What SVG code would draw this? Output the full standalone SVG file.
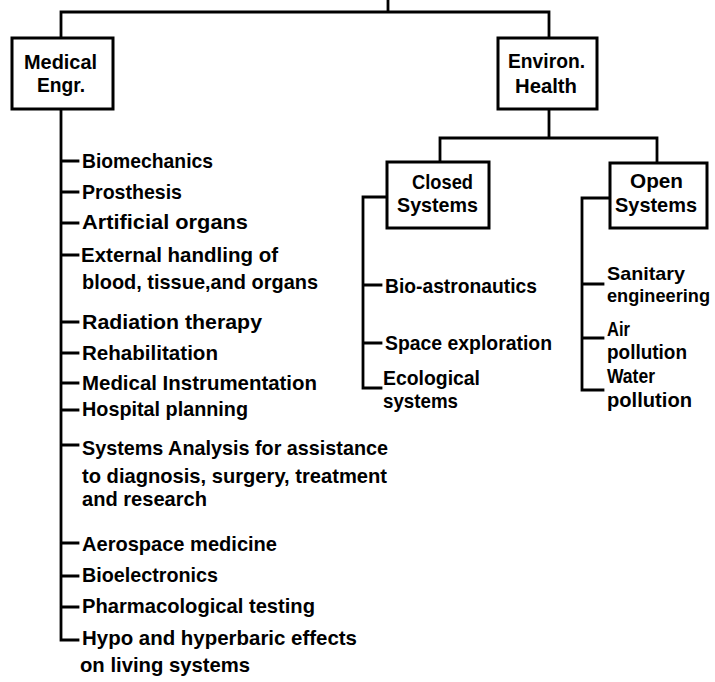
<svg xmlns="http://www.w3.org/2000/svg" width="715" height="682" viewBox="0 0 715 682">
<style>
text{font-family:"Liberation Sans",Arial,sans-serif;font-weight:bold;font-size:21px;fill:#000}
.sm{font-size:19px}
.box{fill:#fff;stroke:#000;stroke-width:3}
.ln{fill:none;stroke:#000;stroke-width:2.8;stroke-linecap:square}
</style>
<rect width="715" height="682" fill="#fff"/>
<g id="connectors" class="ln">
<path d="M388,0V12M61,12H549M61,12V38M549,12V38"/>
<path d="M61,109V640H78M61,161H78M61,192H78M61,223H78M61,255H78M61,322H78M61,353H78M61,383H78M61,410H78M61,445H78M61,543H78M61,576H78M61,607H78"/>
<path d="M549,109V138M440,138H657M440,138V162M657,138V163"/>
<path d="M387,197H363V388H381M363,285H381M363,343H381"/>
<path d="M610,198H582V390H603M582,284H603M582,338H603"/>
</g>
<g id="medical">
<rect class="box" x="12" y="38" width="101" height="71"/>
<text x="24" y="69" textLength="73" lengthAdjust="spacingAndGlyphs">Medical</text>
<text x="37" y="92" textLength="48" lengthAdjust="spacingAndGlyphs">Engr.</text>
</g>
<g id="environ">
<rect class="box" x="498" y="38" width="99" height="71"/>
<text x="508" y="68" textLength="77" lengthAdjust="spacingAndGlyphs">Environ.</text>
<text x="515" y="93" textLength="62" lengthAdjust="spacingAndGlyphs">Health</text>
</g>
<g id="closed">
<rect class="box" x="387" y="162" width="102" height="66"/>
<text x="412" y="189" textLength="61" lengthAdjust="spacingAndGlyphs">Closed</text>
<text x="397" y="212" textLength="81" lengthAdjust="spacingAndGlyphs">Systems</text>
</g>
<g id="open">
<rect class="box" x="610" y="163" width="97" height="65"/>
<text x="630" y="188" textLength="53" lengthAdjust="spacingAndGlyphs">Open</text>
<text x="615" y="212" textLength="82" lengthAdjust="spacingAndGlyphs">Systems</text>
</g>
<g id="medical-items">
<text x="82" y="168" textLength="131" lengthAdjust="spacingAndGlyphs">Biomechanics</text>
<text x="82" y="199" textLength="100" lengthAdjust="spacingAndGlyphs">Prosthesis</text>
<text x="82" y="229" textLength="166" lengthAdjust="spacingAndGlyphs">Artificial organs</text>
<text x="81" y="262" textLength="197" lengthAdjust="spacingAndGlyphs">External handling of</text>
<text x="82" y="289" textLength="236" lengthAdjust="spacingAndGlyphs">blood, tissue,and organs</text>
<text x="82" y="329" textLength="180" lengthAdjust="spacingAndGlyphs">Radiation therapy</text>
<text x="82" y="360" textLength="136" lengthAdjust="spacingAndGlyphs">Rehabilitation</text>
<text x="82" y="390" textLength="235" lengthAdjust="spacingAndGlyphs">Medical Instrumentation</text>
<text x="82" y="416" textLength="166" lengthAdjust="spacingAndGlyphs">Hospital planning</text>
<text x="82" y="455" textLength="306" lengthAdjust="spacingAndGlyphs">Systems Analysis for assistance</text>
<text x="82" y="483" textLength="305" lengthAdjust="spacingAndGlyphs">to diagnosis, surgery, treatment</text>
<text x="82" y="506" textLength="125" lengthAdjust="spacingAndGlyphs">and research</text>
<text x="82" y="551" textLength="195" lengthAdjust="spacingAndGlyphs">Aerospace medicine</text>
<text x="82" y="582" textLength="136" lengthAdjust="spacingAndGlyphs">Bioelectronics</text>
<text x="82" y="613" textLength="233" lengthAdjust="spacingAndGlyphs">Pharmacological testing</text>
<text x="82" y="645" textLength="275" lengthAdjust="spacingAndGlyphs">Hypo and hyperbaric effects</text>
<text x="80" y="672" textLength="170" lengthAdjust="spacingAndGlyphs">on living systems</text>
</g>
<g id="closed-items">
<text x="385" y="293" textLength="152" lengthAdjust="spacingAndGlyphs">Bio-astronautics</text>
<text x="385" y="350" textLength="167" lengthAdjust="spacingAndGlyphs">Space exploration</text>
<text x="383" y="385" textLength="97" lengthAdjust="spacingAndGlyphs">Ecological</text>
<text x="383" y="408" textLength="75" lengthAdjust="spacingAndGlyphs">systems</text>
</g>
<g id="open-items">
<text class="sm" x="607" y="280" textLength="78" lengthAdjust="spacingAndGlyphs">Sanitary</text>
<text class="sm" x="607" y="302" textLength="103" lengthAdjust="spacingAndGlyphs">engineering</text>
<text x="607" y="336" textLength="23" lengthAdjust="spacingAndGlyphs">Air</text>
<text x="607" y="359" textLength="80" lengthAdjust="spacingAndGlyphs">pollution</text>
<text x="607" y="383" textLength="48" lengthAdjust="spacingAndGlyphs">Water</text>
<text x="607" y="407" textLength="85" lengthAdjust="spacingAndGlyphs">pollution</text>
</g>
</svg>
